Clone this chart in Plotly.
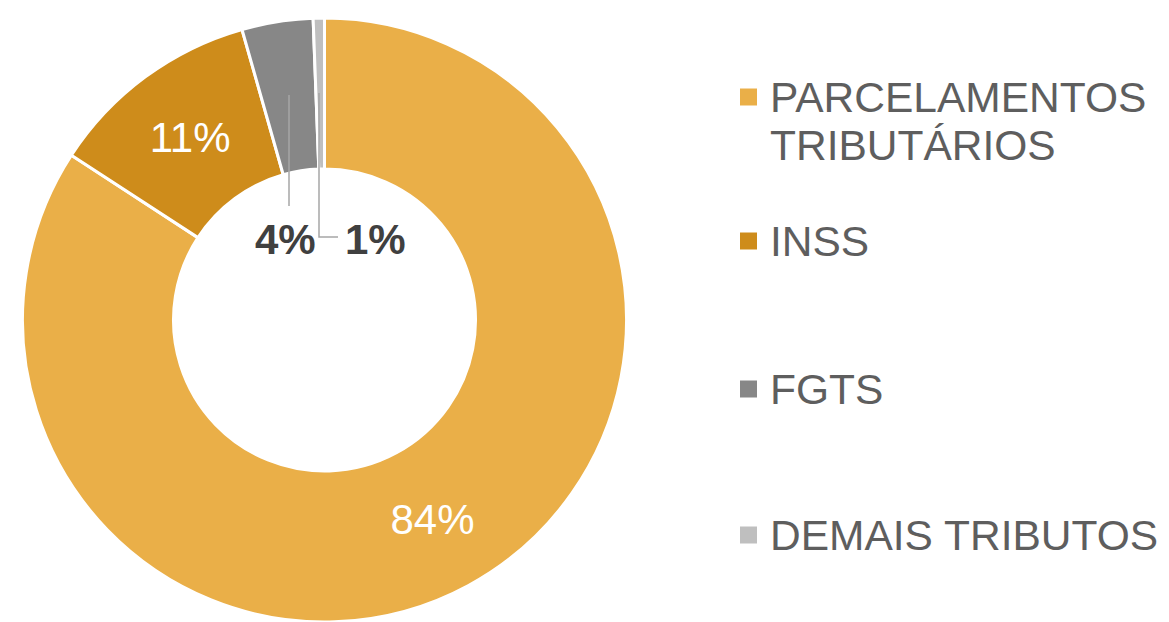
import plotly.graph_objects as go

W, H = 1169, 622

categories = ["PARCELAMENTOS TRIBUTÁRIOS", "INSS", "FGTS", "DEMAIS TRIBUTOS"]
legend_lines = [["PARCELAMENTOS", "TRIBUTÁRIOS"], ["INSS"], ["FGTS"], ["DEMAIS TRIBUTOS"]]
values = [84.1, 11.4, 3.8, 0.6]
colors = ["#EAAF48", "#CE8C1B", "#878787", "#BFBFBF"]

total = sum(values)
pct_labels = [f"{round(v / total * 100):d}%" for v in values]

# pie geometry (pixels)
cx, cy, r = 324.5, 320, 302

def px(x):
    return x / W

def py(y):
    return 1 - y / H

fig = go.Figure()
fig.add_trace(go.Pie(
    labels=categories,
    values=values,
    hole=0.5,
    sort=False,
    direction="clockwise",
    rotation=0,
    marker=dict(colors=colors, line=dict(color="white", width=3)),
    texttemplate=["%{percent:.0%}", "%{percent:.0%}", "", ""],
    textposition=["inside", "inside", "none", "none"],
    insidetextorientation="horizontal",
    textfont=dict(family="Liberation Sans, Arial", size=42, color="white"),
    domain=dict(x=[px(cx - r), px(cx + r)], y=[0, (2 * r) / H]),
    showlegend=False,
    hoverinfo="label+percent",
))

shapes = []
annotations = []

# leader lines and outside labels for small slices
line_col = "#A6A6A6"
shapes.append(dict(type="line", xref="paper", yref="paper",
                   x0=px(289), y0=py(95), x1=px(289), y1=py(206),
                   line=dict(color=line_col, width=1.5)))
shapes.append(dict(type="path", xref="paper", yref="paper",
                   path=f"M {px(319)} {py(93)} L {px(319)} {py(237)} L {px(338)} {py(237)}",
                   line=dict(color=line_col, width=1.5)))
annotations.append(dict(x=px(285), y=py(239), xref="paper", yref="paper",
                        text=f"<b>{pct_labels[2]}</b>", showarrow=False,
                        xanchor="center", yanchor="middle",
                        font=dict(family="Liberation Sans, Arial", size=42, color="#404040")))
annotations.append(dict(x=px(375), y=py(239), xref="paper", yref="paper",
                        text=f"<b>{pct_labels[3]}</b>", showarrow=False,
                        xanchor="center", yanchor="middle",
                        font=dict(family="Liberation Sans, Arial", size=42, color="#404040")))

# manual legend
legend_y = [97, 241, 389, 535]
line_gap = 48
for lines, col, ly in zip(legend_lines, colors, legend_y):
    shapes.append(dict(type="rect", xref="paper", yref="paper",
                       x0=px(740), x1=px(757), y0=py(ly - 8.5), y1=py(ly + 8.5),
                       fillcolor=col, line=dict(width=0)))
    for i, t in enumerate(lines):
        annotations.append(dict(x=px(768), y=py(ly + i * line_gap), xref="paper", yref="paper",
                                text=t, showarrow=False, xanchor="left", yanchor="middle",
                                font=dict(family="Liberation Sans, Arial", size=42.5, color="#5E5E5E")))

fig.update_layout(
    width=W, height=H,
    margin=dict(l=0, r=0, t=0, b=0),
    paper_bgcolor="white",
    plot_bgcolor="white",
    shapes=shapes,
    annotations=annotations,
)

fig.write_html("out.html")
